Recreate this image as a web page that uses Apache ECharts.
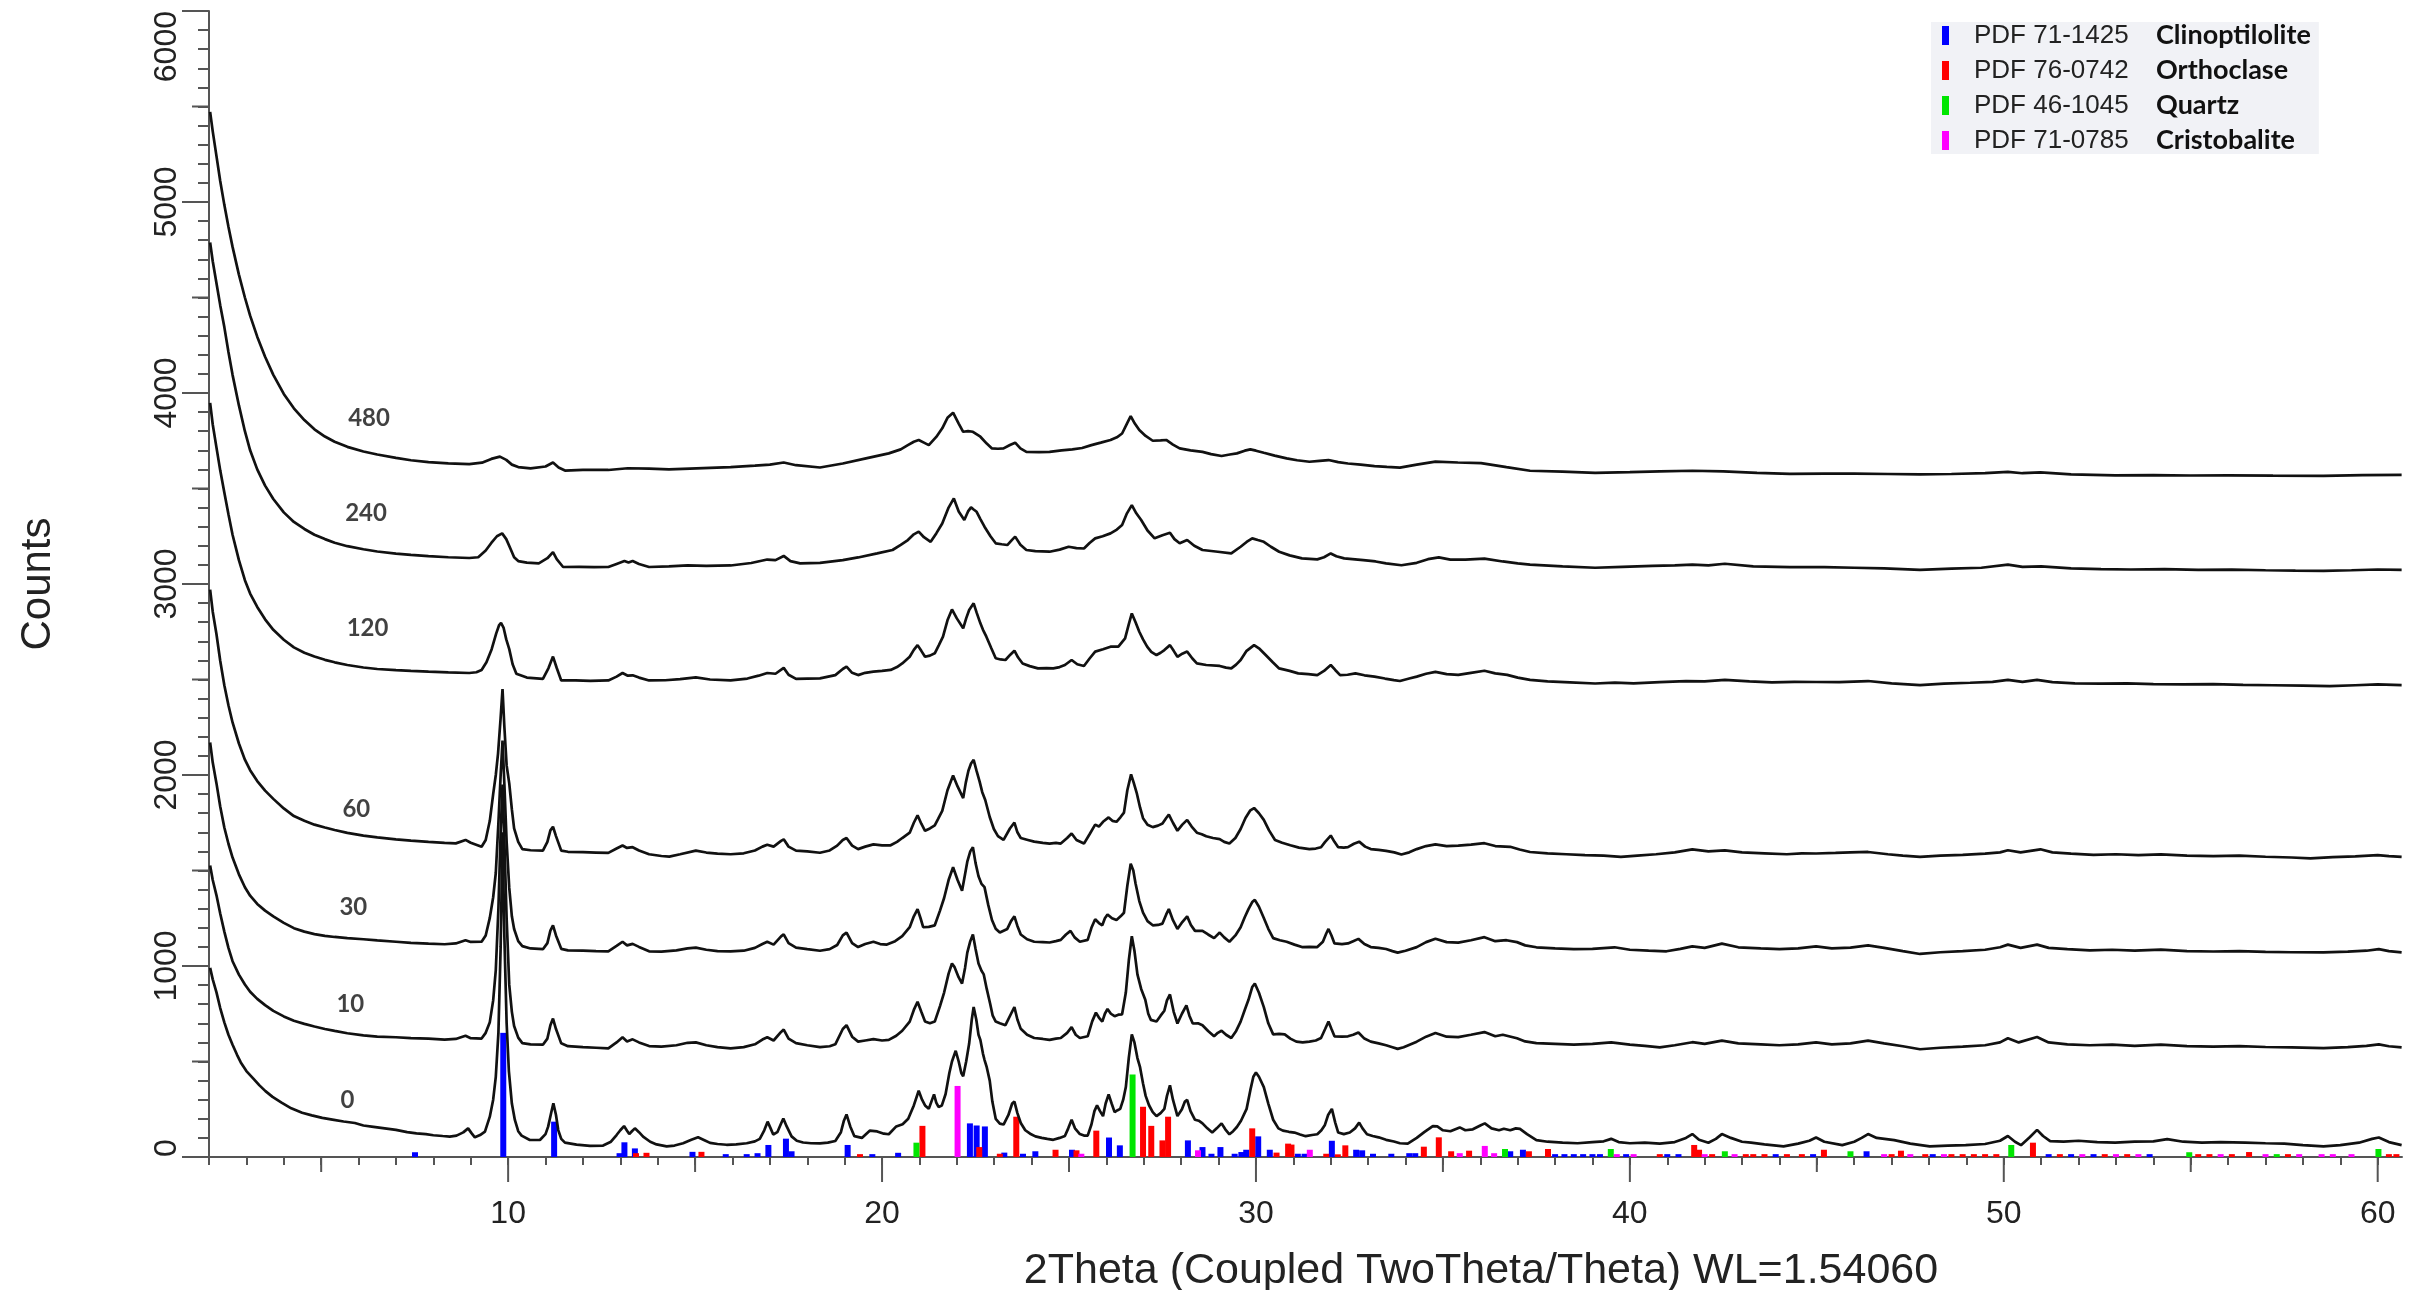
<!DOCTYPE html>
<html>
<head>
<meta charset="utf-8">
<title>XRD patterns</title>
<script src="https://cdn.jsdelivr.net/npm/echarts@6/dist/echarts.min.js"></script>
<style>
  html, body { margin: 0; padding: 0; background: #ffffff; }
  #chart { width: 2430px; height: 1290px; }
</style>
</head>
<body>
<div id="chart"></div>
<script>
// Diffraction scans [2theta, counts], one per treatment time
const scan0 = [[2.03,990],[2.1,930],[2.2,862],[2.3,780],[2.41,705],[2.52,640],[2.63,588],[2.75,535],[2.85,495],[3.0,450],[3.18,412],[3.35,375],[3.51,345],[3.7,315],[3.94,285],[4.2,255],[4.49,232],[4.75,218],[5.03,205],[5.3,196],[5.6,186],[5.9,178],[6.13,165],[6.4,158],[6.7,150],[7.0,142],[7.3,130],[7.55,124],[7.8,120],[8.0,114],[8.25,110],[8.44,107],[8.62,112],[8.8,129],[8.93,150],[9.02,125],[9.11,103],[9.25,115],[9.38,133],[9.51,211],[9.6,300],[9.67,420],[9.74,650],[9.8,1100],[9.85,1700],[9.9,1150],[9.96,700],[10.02,450],[10.1,280],[10.18,194],[10.27,135],[10.36,112],[10.58,89],[10.85,89],[11.0,120],[11.07,159],[11.15,230],[11.21,281],[11.28,220],[11.34,141],[11.42,95],[11.52,75],[11.83,65],[12.19,58],[12.54,60],[12.75,80],[12.9,115],[13.0,140],[13.1,162],[13.18,138],[13.24,120],[13.31,135],[13.39,150],[13.5,130],[13.61,107],[13.8,80],[13.97,66],[14.24,56],[14.45,60],[14.68,72],[14.9,90],[15.08,103],[15.25,88],[15.4,74],[15.6,68],[15.84,64],[16.1,66],[16.38,72],[16.6,82],[16.73,95],[16.85,140],[16.94,185],[17.02,150],[17.09,118],[17.2,130],[17.3,175],[17.36,202],[17.45,160],[17.58,108],[17.72,85],[17.89,76],[18.1,72],[18.34,71],[18.55,75],[18.75,84],[18.9,130],[18.98,190],[19.05,223],[19.15,160],[19.26,109],[19.46,100],[19.67,138],[19.87,134],[20.05,122],[20.18,119],[20.38,160],[20.55,172],[20.7,200],[20.85,270],[20.98,347],[21.07,300],[21.15,270],[21.25,252],[21.32,290],[21.39,328],[21.45,285],[21.51,262],[21.6,270],[21.7,330],[21.8,440],[21.87,500],[21.97,556],[22.05,500],[22.12,440],[22.17,423],[22.25,500],[22.33,594],[22.4,720],[22.45,785],[22.52,720],[22.58,640],[22.63,613],[22.7,540],[22.74,509],[22.8,470],[22.88,400],[22.95,290],[23.04,200],[23.15,175],[23.25,170],[23.38,220],[23.48,280],[23.54,290],[23.62,230],[23.71,178],[23.83,140],[23.96,122],[24.1,108],[24.27,100],[24.42,95],[24.58,90],[24.75,100],[24.89,110],[24.98,150],[25.07,195],[25.16,150],[25.29,120],[25.4,112],[25.5,112],[25.6,170],[25.68,240],[25.75,270],[25.83,240],[25.91,214],[25.98,280],[26.06,328],[26.14,280],[26.22,235],[26.3,245],[26.37,252],[26.45,300],[26.52,366],[26.6,520],[26.68,642],[26.75,600],[26.83,518],[26.9,470],[26.98,385],[27.05,320],[27.14,271],[27.24,235],[27.34,214],[27.45,230],[27.55,252],[27.62,320],[27.7,375],[27.78,300],[27.9,214],[28.02,250],[28.1,290],[28.16,299],[28.25,240],[28.37,195],[28.47,190],[28.57,176],[28.7,150],[28.83,128],[28.95,150],[29.08,176],[29.18,145],[29.29,119],[29.39,135],[29.49,157],[29.6,190],[29.75,252],[29.85,350],[29.93,420],[30.0,442],[30.08,420],[30.21,366],[30.33,280],[30.46,195],[30.6,150],[30.72,138],[30.88,132],[31.03,128],[31.18,118],[31.33,109],[31.5,115],[31.64,119],[31.75,140],[31.84,166],[31.93,220],[32.03,252],[32.12,180],[32.2,128],[32.35,120],[32.51,128],[32.65,150],[32.76,180],[32.85,150],[32.97,119],[33.12,110],[33.28,103],[33.48,90],[33.69,81],[33.85,72],[34.06,70],[34.3,100],[34.5,130],[34.73,162],[34.85,160],[35.0,140],[35.2,135],[35.45,155],[35.6,140],[35.8,145],[36.0,165],[36.12,176],[36.3,150],[36.5,140],[36.63,148],[36.8,140],[36.95,150],[37.06,147],[37.25,120],[37.5,88],[37.8,80],[38.2,75],[38.6,72],[39.0,78],[39.3,82],[39.5,95],[39.7,78],[40.0,72],[40.4,75],[40.8,70],[41.2,78],[41.5,100],[41.67,120],[41.85,90],[42.1,75],[42.3,95],[42.46,120],[42.7,100],[43.0,80],[43.24,75],[43.6,66],[44.11,56],[44.5,70],[44.8,85],[44.98,102],[45.2,80],[45.68,62],[46.0,80],[46.2,100],[46.37,120],[46.6,100],[47.07,88],[47.5,70],[48.02,56],[48.5,60],[48.98,62],[49.5,68],[49.9,85],[50.11,110],[50.3,80],[50.46,62],[50.7,105],[50.89,142],[51.05,110],[51.24,83],[51.6,80],[52.0,85],[52.5,78],[52.98,75],[53.5,80],[54.0,82],[54.37,94],[54.8,80],[55.3,75],[55.8,78],[56.46,75],[57.0,72],[57.5,70],[58.0,62],[58.55,56],[59.0,62],[59.5,75],[59.85,95],[60.03,102],[60.3,78],[60.64,62]];

const scan10 = [[2.03,1526],[2.1,1450],[2.2,1370],[2.3,1275],[2.41,1180],[2.52,1095],[2.63,1025],[2.8,955],[2.96,903],[3.1,865],[3.29,828],[3.5,795],[3.72,765],[4.0,736],[4.27,713],[4.55,697],[4.82,683],[5.1,670],[5.36,660],[5.7,648],[6.13,637],[6.5,630],[7.0,627],[7.4,622],[7.87,620],[8.3,615],[8.6,618],[8.86,635],[9.0,622],[9.29,620],[9.4,650],[9.51,706],[9.6,820],[9.67,979],[9.74,1300],[9.8,1700],[9.85,1950],[9.9,1650],[9.96,1250],[10.03,901],[10.1,760],[10.16,686],[10.27,625],[10.38,596],[10.6,590],[10.93,588],[11.05,620],[11.13,690],[11.2,725],[11.28,670],[11.42,595],[11.6,580],[12.0,575],[12.35,572],[12.68,569],[12.9,600],[13.06,627],[13.18,605],[13.33,616],[13.5,600],[13.77,581],[14.1,578],[14.5,585],[14.8,598],[15.02,600],[15.3,585],[15.6,575],[15.95,569],[16.3,575],[16.6,590],[16.8,615],[16.93,627],[17.1,610],[17.3,655],[17.37,667],[17.5,620],[17.7,596],[18.0,585],[18.34,575],[18.6,580],[18.75,590],[18.95,670],[19.05,690],[19.2,630],[19.36,604],[19.55,610],[19.77,617],[20.0,610],[20.18,613],[20.38,635],[20.54,661],[20.74,709],[20.85,770],[20.95,813],[21.05,760],[21.15,709],[21.28,700],[21.41,709],[21.55,790],[21.66,861],[21.78,960],[21.87,1013],[21.94,994],[22.05,940],[22.14,908],[22.22,990],[22.28,1070],[22.36,1130],[22.43,1165],[22.5,1090],[22.58,1013],[22.66,975],[22.72,956],[22.8,880],[22.89,804],[22.96,740],[23.04,709],[23.15,700],[23.3,690],[23.45,750],[23.54,785],[23.62,720],[23.71,671],[23.88,640],[24.07,623],[24.3,618],[24.48,613],[24.65,620],[24.78,623],[24.95,650],[25.07,680],[25.18,640],[25.29,623],[25.5,632],[25.62,710],[25.72,756],[25.8,730],[25.89,709],[25.96,750],[26.03,775],[26.12,750],[26.22,737],[26.32,745],[26.42,747],[26.52,861],[26.6,1030],[26.68,1156],[26.75,1080],[26.83,956],[26.93,880],[27.04,823],[27.12,750],[27.19,718],[27.34,709],[27.45,740],[27.55,766],[27.62,820],[27.7,851],[27.8,760],[27.9,699],[28.02,750],[28.14,794],[28.22,740],[28.31,699],[28.45,700],[28.57,690],[28.72,660],[28.88,632],[28.98,650],[29.08,661],[29.2,640],[29.34,623],[29.47,660],[29.59,709],[29.7,770],[29.8,823],[29.9,890],[29.97,908],[30.08,860],[30.21,785],[30.33,700],[30.46,642],[30.62,645],[30.77,642],[30.92,620],[31.08,604],[31.25,600],[31.43,604],[31.6,610],[31.74,623],[31.85,670],[31.94,709],[32.02,670],[32.1,632],[32.3,630],[32.46,632],[32.6,640],[32.74,652],[32.9,620],[33.07,604],[33.28,595],[33.48,585],[33.65,575],[33.79,566],[33.95,575],[34.3,604],[34.55,630],[34.8,649],[35.1,630],[35.41,628],[35.75,640],[36.11,654],[36.4,632],[36.6,640],[36.98,622],[37.2,605],[37.5,596],[38.0,592],[38.5,588],[39.0,592],[39.5,600],[40.0,588],[40.4,582],[40.8,574],[41.2,585],[41.67,601],[42.0,592],[42.46,609],[42.9,595],[43.5,590],[44.0,585],[44.5,590],[44.98,600],[45.4,590],[45.9,595],[46.37,609],[46.8,595],[47.3,580],[47.76,564],[48.3,572],[48.9,578],[49.5,585],[49.9,600],[50.11,622],[50.4,600],[50.89,628],[51.2,600],[51.7,590],[52.3,585],[52.9,588],[53.5,582],[54.2,588],[54.9,580],[55.6,578],[56.3,580],[57.0,576],[57.7,574],[58.55,570],[59.2,575],[59.7,582],[60.03,590],[60.3,580],[60.64,574]];

const scan30 = [[2.03,2170],[2.1,2065],[2.2,1956],[2.3,1835],[2.41,1725],[2.52,1640],[2.63,1568],[2.8,1480],[2.96,1412],[3.1,1368],[3.29,1325],[3.5,1290],[3.72,1260],[4.0,1226],[4.27,1198],[4.55,1180],[4.82,1167],[5.1,1158],[5.36,1152],[5.7,1146],[6.13,1140],[6.5,1134],[7.0,1127],[7.4,1121],[7.87,1117],[8.3,1114],[8.6,1118],[8.86,1135],[9.0,1126],[9.29,1127],[9.4,1160],[9.51,1252],[9.6,1360],[9.67,1487],[9.74,1750],[9.8,2000],[9.85,2180],[9.9,1950],[9.96,1650],[10.03,1409],[10.1,1260],[10.16,1194],[10.27,1130],[10.38,1104],[10.6,1092],[10.93,1088],[11.05,1120],[11.13,1185],[11.2,1213],[11.28,1160],[11.42,1090],[11.6,1082],[12.0,1080],[12.35,1078],[12.68,1077],[12.9,1105],[13.06,1127],[13.18,1108],[13.33,1116],[13.5,1100],[13.77,1077],[14.1,1075],[14.5,1082],[14.8,1092],[15.02,1096],[15.3,1085],[15.6,1078],[15.95,1077],[16.3,1080],[16.6,1095],[16.8,1115],[16.93,1127],[17.1,1112],[17.3,1155],[17.37,1166],[17.5,1120],[17.7,1096],[18.0,1088],[18.34,1080],[18.6,1088],[18.8,1110],[18.95,1160],[19.05,1175],[19.2,1120],[19.36,1099],[19.55,1115],[19.77,1127],[19.95,1115],[20.13,1112],[20.35,1130],[20.54,1156],[20.74,1203],[20.85,1260],[20.95,1298],[21.03,1250],[21.1,1203],[21.25,1205],[21.41,1213],[21.55,1290],[21.66,1356],[21.78,1450],[21.9,1517],[22.02,1450],[22.14,1394],[22.22,1480],[22.28,1546],[22.36,1600],[22.43,1622],[22.5,1540],[22.58,1470],[22.66,1430],[22.74,1413],[22.84,1320],[22.94,1241],[23.04,1195],[23.15,1175],[23.35,1194],[23.45,1235],[23.54,1260],[23.62,1210],[23.71,1165],[23.88,1140],[24.07,1127],[24.3,1125],[24.48,1123],[24.65,1130],[24.78,1137],[24.92,1165],[25.04,1184],[25.15,1150],[25.29,1127],[25.5,1137],[25.6,1200],[25.7,1245],[25.8,1225],[25.89,1213],[25.96,1250],[26.03,1270],[26.15,1250],[26.27,1241],[26.38,1260],[26.47,1279],[26.56,1420],[26.65,1536],[26.72,1500],[26.78,1432],[26.88,1340],[26.98,1279],[27.1,1235],[27.24,1213],[27.38,1215],[27.5,1222],[27.6,1270],[27.67,1298],[27.78,1240],[27.9,1194],[28.03,1230],[28.16,1260],[28.26,1215],[28.37,1184],[28.57,1184],[28.72,1165],[28.88,1146],[29.03,1175],[29.15,1150],[29.29,1127],[29.45,1160],[29.59,1203],[29.7,1255],[29.8,1298],[29.9,1335],[29.97,1346],[30.08,1310],[30.21,1251],[30.33,1195],[30.46,1146],[30.64,1135],[30.82,1127],[31.03,1112],[31.23,1099],[31.43,1100],[31.64,1099],[31.79,1127],[31.88,1170],[31.94,1194],[32.02,1160],[32.1,1118],[32.3,1115],[32.46,1118],[32.6,1130],[32.74,1142],[32.9,1115],[33.07,1099],[33.28,1095],[33.48,1089],[33.65,1078],[33.79,1070],[34.0,1080],[34.3,1099],[34.55,1125],[34.8,1143],[35.1,1125],[35.41,1122],[35.75,1135],[36.11,1151],[36.4,1130],[36.7,1135],[36.98,1125],[37.2,1108],[37.5,1098],[38.0,1092],[38.5,1088],[39.0,1090],[39.59,1098],[40.0,1085],[40.5,1080],[40.98,1077],[41.35,1090],[41.67,1103],[42.0,1095],[42.46,1117],[42.9,1098],[43.5,1092],[44.0,1088],[44.5,1092],[44.98,1103],[45.4,1092],[45.9,1096],[46.37,1108],[46.8,1095],[47.3,1078],[47.76,1063],[48.3,1072],[48.9,1078],[49.5,1085],[49.9,1098],[50.11,1112],[50.45,1095],[50.89,1112],[51.2,1095],[51.7,1088],[52.3,1082],[52.9,1085],[53.5,1080],[54.2,1086],[54.9,1078],[55.6,1076],[56.3,1078],[57.0,1074],[57.7,1072],[58.55,1071],[59.2,1075],[59.7,1080],[60.03,1088],[60.3,1078],[60.64,1071]];

const scan60 = [[2.03,2971],[2.1,2855],[2.2,2737],[2.3,2598],[2.41,2470],[2.52,2365],[2.63,2275],[2.8,2165],[2.96,2080],[3.1,2025],[3.29,1968],[3.5,1918],[3.72,1875],[4.0,1825],[4.27,1785],[4.55,1760],[4.82,1740],[5.1,1725],[5.36,1712],[5.7,1697],[6.13,1683],[6.5,1673],[7.0,1663],[7.4,1656],[7.87,1650],[8.3,1645],[8.6,1642],[8.86,1660],[9.0,1645],[9.29,1624],[9.4,1660],[9.51,1760],[9.6,1900],[9.67,2000],[9.73,2112],[9.8,2300],[9.85,2450],[9.9,2250],[9.96,2050],[10.03,1956],[10.1,1820],[10.16,1721],[10.27,1650],[10.38,1612],[10.6,1606],[10.93,1604],[11.05,1650],[11.13,1710],[11.2,1729],[11.28,1680],[11.42,1604],[11.6,1598],[12.0,1596],[12.35,1594],[12.68,1592],[12.9,1615],[13.06,1631],[13.18,1618],[13.33,1622],[13.5,1605],[13.77,1585],[14.1,1576],[14.31,1573],[14.6,1585],[15.02,1604],[15.3,1594],[15.6,1588],[15.95,1585],[16.3,1590],[16.6,1605],[16.8,1625],[16.93,1635],[17.1,1625],[17.3,1655],[17.37,1663],[17.5,1625],[17.7,1604],[18.0,1600],[18.34,1593],[18.6,1605],[18.8,1630],[18.95,1660],[19.05,1670],[19.2,1630],[19.36,1612],[19.55,1625],[19.77,1637],[20.0,1632],[20.23,1632],[20.4,1650],[20.54,1670],[20.74,1698],[20.85,1750],[20.95,1789],[21.05,1745],[21.15,1708],[21.28,1720],[21.41,1736],[21.5,1770],[21.61,1812],[21.75,1920],[21.9,1997],[22.02,1940],[22.17,1879],[22.24,1960],[22.31,2022],[22.38,2060],[22.45,2079],[22.53,2020],[22.61,1965],[22.68,1910],[22.76,1869],[22.88,1780],[22.99,1717],[23.1,1680],[23.25,1660],[23.42,1720],[23.54,1751],[23.62,1700],[23.71,1670],[23.9,1660],[24.07,1651],[24.3,1645],[24.48,1641],[24.65,1645],[24.78,1641],[24.95,1670],[25.07,1694],[25.2,1660],[25.4,1641],[25.55,1690],[25.7,1740],[25.8,1730],[25.91,1755],[26.06,1778],[26.16,1760],[26.27,1755],[26.38,1780],[26.47,1803],[26.56,1920],[26.66,2003],[26.73,1960],[26.81,1907],[26.9,1830],[26.98,1774],[27.1,1740],[27.24,1727],[27.38,1735],[27.5,1746],[27.6,1775],[27.67,1793],[27.78,1750],[27.9,1708],[28.03,1740],[28.16,1765],[28.28,1730],[28.42,1698],[28.55,1690],[28.67,1679],[28.85,1670],[29.03,1664],[29.15,1650],[29.29,1641],[29.45,1670],[29.59,1717],[29.72,1775],[29.85,1815],[29.95,1827],[30.08,1800],[30.21,1765],[30.35,1710],[30.51,1660],[30.7,1645],[30.92,1632],[31.15,1620],[31.43,1612],[31.6,1615],[31.74,1622],[31.85,1650],[32.0,1683],[32.1,1650],[32.2,1622],[32.35,1620],[32.46,1622],[32.62,1640],[32.76,1651],[32.92,1625],[33.07,1612],[33.28,1608],[33.48,1603],[33.7,1595],[33.89,1584],[34.1,1595],[34.3,1612],[34.55,1628],[34.8,1637],[35.1,1628],[35.41,1630],[35.75,1635],[36.11,1643],[36.4,1628],[36.8,1624],[37.05,1610],[37.33,1597],[37.8,1590],[38.3,1585],[38.8,1580],[39.3,1578],[39.76,1571],[40.2,1578],[40.7,1585],[41.2,1595],[41.67,1611],[42.1,1600],[42.54,1605],[43.0,1595],[43.6,1590],[44.2,1585],[44.6,1590],[44.98,1589],[45.5,1592],[45.9,1595],[46.37,1597],[46.9,1585],[47.3,1578],[47.76,1571],[48.3,1578],[48.9,1582],[49.5,1588],[49.9,1595],[50.11,1606],[50.45,1595],[50.98,1611],[51.3,1595],[51.8,1588],[52.4,1582],[53.0,1585],[53.6,1580],[54.2,1584],[54.9,1578],[55.6,1575],[56.3,1578],[57.0,1572],[57.7,1568],[58.2,1563],[58.8,1570],[59.4,1574],[60.0,1580],[60.3,1575],[60.64,1571]];

const scan120 = [[2.03,3948],[2.1,3835],[2.2,3714],[2.3,3595],[2.41,3479],[2.52,3365],[2.63,3258],[2.8,3125],[2.96,3020],[3.1,2950],[3.29,2880],[3.5,2815],[3.72,2760],[4.0,2708],[4.27,2668],[4.55,2640],[4.82,2620],[5.1,2603],[5.36,2590],[5.7,2576],[6.13,2563],[6.5,2555],[7.0,2549],[7.4,2545],[7.87,2541],[8.4,2537],[8.96,2534],[9.15,2538],[9.29,2550],[9.42,2590],[9.56,2659],[9.68,2740],[9.76,2785],[9.81,2796],[9.88,2770],[9.95,2710],[10.03,2659],[10.12,2580],[10.22,2530],[10.5,2510],[10.93,2503],[11.08,2560],[11.2,2620],[11.3,2560],[11.42,2495],[11.8,2495],[12.2,2493],[12.68,2495],[12.9,2515],[13.06,2534],[13.2,2520],[13.33,2522],[13.5,2510],[13.77,2495],[14.2,2496],[14.6,2502],[15.02,2511],[15.4,2500],[15.95,2495],[16.4,2505],[16.7,2520],[16.93,2534],[17.15,2530],[17.37,2561],[17.5,2525],[17.7,2503],[18.0,2505],[18.34,2506],[18.75,2523],[18.95,2555],[19.05,2567],[19.2,2535],[19.36,2523],[19.55,2535],[19.77,2541],[20.0,2545],[20.23,2550],[20.4,2565],[20.54,2584],[20.74,2619],[20.85,2655],[20.95,2680],[21.05,2650],[21.15,2619],[21.28,2625],[21.41,2637],[21.52,2680],[21.63,2724],[21.75,2810],[21.87,2867],[22.0,2820],[22.17,2768],[22.25,2820],[22.33,2864],[22.45,2899],[22.53,2850],[22.63,2794],[22.7,2760],[22.79,2724],[22.92,2665],[23.04,2611],[23.17,2605],[23.3,2602],[23.43,2630],[23.54,2651],[23.64,2615],[23.76,2584],[23.95,2570],[24.17,2558],[24.4,2560],[24.58,2558],[24.75,2565],[24.89,2576],[25.07,2602],[25.22,2580],[25.4,2571],[25.55,2610],[25.7,2646],[25.91,2658],[26.11,2672],[26.32,2672],[26.5,2715],[26.6,2790],[26.68,2846],[26.78,2800],[26.88,2750],[26.98,2710],[27.09,2672],[27.2,2645],[27.34,2628],[27.45,2640],[27.55,2654],[27.7,2680],[27.8,2650],[27.9,2619],[28.03,2635],[28.16,2646],[28.3,2610],[28.42,2584],[28.67,2576],[29.03,2571],[29.2,2562],[29.34,2558],[29.47,2578],[29.59,2602],[29.75,2650],[29.95,2680],[30.1,2660],[30.26,2628],[30.45,2590],[30.62,2558],[30.9,2545],[31.13,2532],[31.4,2528],[31.64,2523],[31.82,2545],[32.0,2576],[32.12,2550],[32.25,2523],[32.45,2525],[32.66,2532],[32.9,2522],[33.17,2515],[33.45,2505],[33.69,2497],[33.85,2492],[34.1,2505],[34.3,2515],[34.55,2530],[34.8,2540],[35.1,2528],[35.41,2524],[35.75,2535],[36.11,2546],[36.4,2532],[36.72,2524],[37.0,2510],[37.33,2498],[37.8,2490],[38.4,2485],[39.07,2479],[39.6,2484],[40.1,2480],[40.8,2486],[41.5,2492],[42.0,2490],[42.54,2498],[43.2,2490],[43.8,2485],[44.4,2488],[44.98,2487],[45.6,2486],[46.37,2492],[47.0,2480],[47.76,2471],[48.4,2478],[49.1,2483],[49.7,2488],[50.11,2498],[50.5,2488],[50.89,2498],[51.3,2486],[51.9,2480],[52.6,2478],[53.3,2480],[54.0,2476],[54.8,2474],[55.6,2476],[56.4,2472],[57.2,2470],[58.0,2468],[58.72,2465],[59.4,2470],[60.0,2474],[60.64,2471]];

const scan240 = [[2.03,4788],[2.1,4690],[2.2,4575],[2.3,4460],[2.41,4345],[2.52,4215],[2.63,4095],[2.8,3935],[2.96,3800],[3.1,3700],[3.29,3600],[3.5,3515],[3.72,3445],[4.0,3375],[4.27,3325],[4.55,3288],[4.82,3258],[5.1,3235],[5.36,3216],[5.7,3198],[6.13,3182],[6.5,3170],[7.0,3159],[7.4,3152],[7.87,3146],[8.4,3140],[8.96,3136],[9.2,3140],[9.4,3175],[9.55,3215],[9.7,3250],[9.84,3265],[9.95,3235],[10.06,3186],[10.16,3140],[10.27,3120],[10.5,3112],[10.82,3108],[11.05,3135],[11.2,3167],[11.3,3130],[11.47,3089],[11.9,3090],[12.3,3088],[12.68,3089],[12.9,3105],[13.11,3120],[13.22,3112],[13.33,3120],[13.5,3105],[13.77,3089],[14.3,3092],[14.8,3098],[15.3,3095],[15.95,3097],[16.5,3110],[16.93,3128],[17.15,3125],[17.37,3147],[17.55,3120],[17.81,3108],[18.34,3111],[18.95,3125],[19.36,3139],[19.87,3160],[20.28,3178],[20.5,3205],[20.69,3230],[20.85,3260],[20.98,3274],[21.12,3245],[21.3,3221],[21.45,3265],[21.61,3317],[21.78,3400],[21.92,3448],[22.05,3380],[22.2,3335],[22.3,3380],[22.38,3401],[22.45,3390],[22.53,3378],[22.63,3340],[22.74,3300],[22.9,3250],[23.04,3213],[23.2,3208],[23.35,3204],[23.47,3230],[23.56,3248],[23.7,3205],[23.86,3178],[24.1,3172],[24.48,3169],[24.75,3180],[24.99,3195],[25.2,3188],[25.4,3186],[25.55,3215],[25.7,3239],[25.9,3250],[26.11,3265],[26.28,3285],[26.42,3309],[26.55,3370],[26.68,3413],[26.8,3370],[26.93,3335],[27.1,3280],[27.29,3239],[27.5,3255],[27.7,3268],[27.82,3235],[27.96,3213],[28.16,3230],[28.35,3200],[28.57,3178],[28.98,3169],[29.34,3160],[29.59,3195],[29.75,3220],[29.9,3239],[30.05,3230],[30.21,3221],[30.4,3195],[30.62,3169],[30.9,3150],[31.23,3134],[31.64,3129],[31.82,3140],[32.0,3160],[32.15,3145],[32.36,3134],[32.87,3125],[33.2,3118],[33.48,3108],[33.89,3098],[34.3,3111],[34.6,3130],[34.89,3139],[35.2,3128],[35.6,3128],[36.11,3133],[36.6,3118],[37.0,3108],[37.33,3101],[38.2,3092],[39.07,3085],[39.8,3090],[40.6,3095],[41.2,3098],[41.67,3101],[42.1,3098],[42.54,3106],[43.3,3092],[44.28,3088],[45.2,3088],[46.0,3085],[46.8,3082],[47.76,3074],[48.6,3080],[49.4,3085],[50.11,3101],[50.5,3090],[51.0,3092],[51.8,3082],[52.6,3078],[53.4,3076],[54.3,3078],[55.2,3074],[56.1,3075],[57.0,3072],[57.8,3070],[58.55,3069],[59.3,3072],[60.0,3076],[60.64,3074]];

const scan480 = [[2.03,5472],[2.1,5370],[2.2,5240],[2.3,5110],[2.41,4985],[2.52,4870],[2.63,4765],[2.8,4620],[2.96,4500],[3.1,4405],[3.29,4295],[3.5,4190],[3.72,4095],[4.0,3995],[4.27,3920],[4.55,3858],[4.82,3810],[5.1,3772],[5.36,3745],[5.7,3718],[6.13,3694],[6.5,3678],[7.0,3660],[7.4,3648],[7.87,3638],[8.4,3632],[8.96,3628],[9.3,3635],[9.55,3655],[9.78,3667],[9.95,3650],[10.1,3625],[10.27,3612],[10.6,3605],[11.0,3615],[11.2,3636],[11.35,3610],[11.52,3594],[12.0,3597],[12.68,3597],[13.2,3606],[13.77,3604],[14.3,3600],[14.86,3604],[15.4,3608],[15.95,3612],[16.6,3620],[17.0,3625],[17.37,3636],[17.7,3622],[18.34,3610],[18.95,3631],[19.57,3658],[20.18,3684],[20.5,3705],[20.69,3727],[20.85,3745],[20.98,3754],[21.12,3740],[21.25,3727],[21.45,3770],[21.61,3815],[21.75,3870],[21.9,3897],[22.05,3840],[22.17,3797],[22.3,3800],[22.43,3797],[22.63,3771],[22.8,3735],[22.94,3710],[23.1,3708],[23.25,3710],[23.42,3728],[23.56,3740],[23.7,3710],[23.86,3692],[24.2,3690],[24.48,3692],[24.8,3700],[25.09,3705],[25.35,3712],[25.6,3727],[25.85,3740],[26.11,3754],[26.28,3768],[26.42,3788],[26.55,3840],[26.65,3879],[26.76,3840],[26.88,3806],[27.05,3775],[27.24,3750],[27.45,3752],[27.6,3754],[27.78,3730],[27.96,3710],[28.25,3700],[28.57,3692],[28.8,3680],[29.08,3670],[29.3,3678],[29.49,3684],[29.7,3698],[29.85,3705],[30.0,3698],[30.21,3687],[30.5,3672],[30.82,3658],[31.1,3648],[31.43,3640],[31.7,3645],[31.94,3649],[32.2,3638],[32.46,3631],[32.8,3625],[33.17,3617],[33.5,3613],[33.85,3609],[34.3,3625],[34.8,3641],[35.4,3636],[36.02,3633],[36.7,3612],[37.33,3593],[38.2,3588],[39.07,3582],[40.0,3586],[40.8,3590],[41.67,3593],[42.5,3590],[43.4,3582],[44.28,3577],[45.2,3578],[46.0,3578],[46.9,3576],[47.76,3574],[48.6,3576],[49.5,3580],[50.11,3587],[50.5,3580],[50.98,3584],[51.8,3574],[52.98,3569],[54.0,3570],[55.0,3568],[56.0,3569],[57.2,3567],[58.55,3566],[59.6,3570],[60.64,3571]];

const scanNames = ['0', '10', '30', '60', '120', '240', '480'];

// Reference powder patterns [2theta, relative intensity]
const clinoptiloliteSticks = [[7.51,25],[9.87,650],[11.23,185],[12.98,20],[13.11,77],[13.39,45],[14.93,27],[15.82,15],[16.38,15],[16.67,20],[16.96,63],[17.43,96],[17.58,30],[19.08,63],[19.74,15],[20.43,22],[22.35,176],[22.53,165],[22.75,160],[23.27,23],[23.77,17],[24.1,30],[25.08,38],[26.07,102],[26.36,61],[28.18,87],[28.57,52],[28.81,17],[29.05,52],[29.43,17],[29.61,26],[29.74,38],[30.06,108],[30.37,38],[31.12,17],[31.3,17],[32.03,85],[32.68,38],[32.84,35],[33.13,17],[33.62,17],[34.1,20],[34.26,20],[36.8,30],[37.14,38],[38.0,15],[38.25,15],[38.5,15],[38.75,15],[39.0,15],[39.2,15],[39.9,15],[41.0,15],[41.3,15],[43.9,15],[44.9,15],[46.33,30],[48.1,15],[51.2,15],[51.8,15],[52.4,15],[53.9,15]];
const orthoclaseSticks = [[13.42,20],[13.7,22],[15.17,27],[19.41,15],[21.08,163],[22.6,52],[23.15,17],[23.59,211],[24.64,38],[25.2,35],[25.73,138],[26.98,263],[27.2,163],[27.5,87],[27.65,211],[29.9,150],[30.55,23],[30.86,70],[30.95,65],[31.88,17],[32.19,14],[32.39,61],[34.49,54],[34.89,103],[35.22,30],[35.7,33],[37.3,30],[37.81,42],[40.8,15],[42.2,15],[43.1,15],[43.3,15],[43.6,15],[44.2,15],[44.6,15],[41.72,63],[41.85,38],[45.19,38],[47.0,15],[47.25,33],[47.9,15],[48.6,15],[48.9,15],[49.2,15],[49.5,15],[49.8,15],[50.78,75],[51.5,15],[52.7,15],[53.3,15],[55.2,15],[55.5,15],[56.1,15],[56.56,26],[57.6,15],[60.3,15],[60.5,15]];
const quartzSticks = [[20.92,75],[26.7,432],[36.66,42],[39.49,42],[42.54,30],[45.9,30],[50.2,63],[54.96,25],[57.3,15],[60.02,42]];
const cristobaliteSticks = [[22.02,372],[25.33,17],[28.45,35],[31.44,38],[35.45,20],[36.12,58],[36.37,20],[39.65,15],[40.1,15],[42.0,15],[42.8,15],[46.8,15],[47.5,15],[48.4,15],[52.1,15],[53.0,15],[53.6,15],[55.8,15],[57.0,15],[57.9,15],[58.5,15],[58.8,15],[59.3,15]];

const phaseCodes = ['PDF 71-1425', 'PDF 76-0742', 'PDF 46-1045', 'PDF 71-0785'];
const phaseNames = ['Clinoptilolite', 'Orthoclase', 'Quartz', 'Cristobalite'];

// Axis tick positions
const xLabelTicks = [10, 20, 30, 40, 50, 60];
const xMidTicks = [5, 15, 25, 35, 45, 55];
const xMinorTicks = [2,3,4,5,6,7,8,9,10,11,12,13,14,15,16,17,18,19,20,21,22,23,24,25,26,27,28,29,30,31,32,33,34,35,36,37,38,39,40,41,42,43,44,45,46,47,48,49,50,51,52,53,54,55,56,57,58,59,60];
const yMidTicks = [500, 1500, 2500, 3500, 4500, 5500];

// Where each scan's name sits, in data coordinates
const scanLabelAnchors = [[5.7,298],[5.78,801],[5.86,1309],[5.94,1822],[6.24,2770],[6.2,3372],[6.28,3869]];

const X_MIN = 2, X_MAX = 60.65;
const phaseColors = ['#0000ff', '#ff0000', '#00e600', '#ff00ff'];
const AXIS_COLOR = '#555555';
const TEXT_FONT = '"Liberation Sans", Arial, sans-serif';
const BOLD_FONT = 'Lato, "Open Sans", sans-serif';

const chart = echarts.init(document.getElementById('chart'), null, { renderer: 'canvas' });

function stickSeries(name, data, color) {
  return {
    name: name,
    type: 'custom',
    xAxisIndex: 0,
    yAxisIndex: 0,
    itemStyle: { color: color },
    encode: { x: 0, y: 1 },
    z: 2,
    renderItem: function (params, api) {
      const x = api.value(0);
      const top = api.coord([x, api.value(1)]);
      const base = api.coord([x, 0]);
      return {
        type: 'rect',
        shape: { x: top[0] - 3, y: top[1], width: 6, height: base[1] - top[1] },
        style: { fill: color }
      };
    },
    data: data
  };
}

// Longer tick marks at chosen axis values, placed through the axis scales
function tickMarkSeries(name, values, axis, len) {
  return {
    name: name,
    type: 'custom',
    xAxisIndex: 0,
    yAxisIndex: 0,
    clip: false,
    silent: true,
    z: 5,
    renderItem: function (params, api) {
      const v = api.value(0);
      const p = axis === 'x' ? api.coord([v, 0]) : api.coord([X_MIN, v]);
      const shape = axis === 'x'
        ? { x1: p[0], y1: p[1], x2: p[0], y2: p[1] + len }
        : { x1: p[0], y1: p[1], x2: p[0] - len, y2: p[1] };
      return { type: 'line', shape: shape, style: { stroke: AXIS_COLOR, lineWidth: 2 } };
    },
    data: values.map(function (v) { return [v]; })
  };
}

const scans = [scan0, scan10, scan30, scan60, scan120, scan240, scan480];

const series = [
  stickSeries(phaseCodes[0], clinoptiloliteSticks, phaseColors[0]),
  stickSeries(phaseCodes[1], orthoclaseSticks, phaseColors[1]),
  stickSeries(phaseCodes[2], quartzSticks, phaseColors[2]),
  stickSeries(phaseCodes[3], cristobaliteSticks, phaseColors[3]),
  tickMarkSeries('x major ticks', xLabelTicks, 'x', 25),
  tickMarkSeries('x mid ticks', xMidTicks, 'x', 15),
  tickMarkSeries('y mid ticks', yMidTicks, 'y', 17)
];

scans.forEach(function (scan, i) {
  series.push({
    name: 'scan ' + scanNames[i],
    type: 'line',
    xAxisIndex: 0,
    yAxisIndex: 0,
    data: scan,
    showSymbol: false,
    symbol: 'none',
    animation: false,
    z: 3,
    lineStyle: { color: '#111111', width: 2.7 },
    emphasis: { disabled: true }
  });
});

series.push({
  name: 'scan labels',
  type: 'scatter',
  xAxisIndex: 0,
  yAxisIndex: 0,
  symbolSize: 0,
  z: 4,
  silent: true,
  data: scanLabelAnchors.map(function (p, i) { return { value: p, name: scanNames[i] }; }),
  label: {
    show: true,
    position: 'inside',
    formatter: function (p) { return p.name; },
    fontFamily: BOLD_FONT,
    fontWeight: 'bold',
    fontSize: 24,
    color: '#111111'
  }
});

const option = {
  backgroundColor: '#ffffff',
  animation: false,
  textStyle: { fontFamily: TEXT_FONT },
  grid: { left: 209, top: 11, width: 2193, height: 1146, containLabel: false },
  legend: {
    data: phaseCodes,
    orient: 'vertical',
    left: 1931,
    top: 22,
    itemWidth: 7,
    itemHeight: 19,
    itemGap: 8,
    padding: [0, 8, 0, 11],
    backgroundColor: '#f1f2f6',
    icon: 'rect',
    selectedMode: false,
    formatter: function (name) {
      const i = phaseCodes.indexOf(name);
      return '{a|' + name + '}{b|' + phaseNames[i] + '}';
    },
    textStyle: {
      rich: {
        a: { fontFamily: TEXT_FONT, fontSize: 26, color: '#222222', width: 182, padding: [0, 0, 0, 20], lineHeight: 28 },
        b: { fontFamily: BOLD_FONT, fontWeight: 'bold', fontSize: 27, color: '#111111', lineHeight: 28 }
      }
    }
  },
  xAxis: {
    type: 'value', min: X_MIN, max: X_MAX, position: 'bottom',
    axisLine: { show: true, onZero: false, lineStyle: { color: AXIS_COLOR, width: 2 } },
    axisTick: { show: true, customValues: xMinorTicks, length: 8, lineStyle: { color: AXIS_COLOR, width: 2 } },
    axisLabel: { show: true, customValues: xLabelTicks, fontSize: 32, color: '#222222', margin: 41, fontFamily: TEXT_FONT },
    splitLine: { show: false }
  },
  yAxis: {
    type: 'value', min: 0, max: 6000, interval: 1000, position: 'left',
    name: 'Counts', nameLocation: 'middle', nameGap: 150, nameRotate: 90,
    nameTextStyle: { fontSize: 42, color: '#222222', fontFamily: TEXT_FONT },
    axisLine: { show: true, lineStyle: { color: AXIS_COLOR, width: 2 } },
    axisTick: { show: true, length: 27, lineStyle: { color: AXIS_COLOR, width: 2 } },
    minorTick: { show: true, splitNumber: 10, length: 11, lineStyle: { color: AXIS_COLOR, width: 2 } },
    axisLabel: { show: true, rotate: 90, fontSize: 32, color: '#222222', margin: 26, fontFamily: TEXT_FONT,
                 alignMinLabel: 'left', alignMaxLabel: 'right',
                 formatter: function (v) { return String(v); } },
    splitLine: { show: false },
    minorSplitLine: { show: false }
  },
  graphic: [
    {
      type: 'text', x: 1481, y: 1271, silent: true,
      style: { text: '2Theta (Coupled TwoTheta/Theta) WL=1.54060', fontSize: 43, fontFamily: TEXT_FONT,
               fill: '#222222', align: 'center', verticalAlign: 'middle' }
    }
  ],
  series: series
};

chart.setOption(option);
</script>
</body>
</html>
